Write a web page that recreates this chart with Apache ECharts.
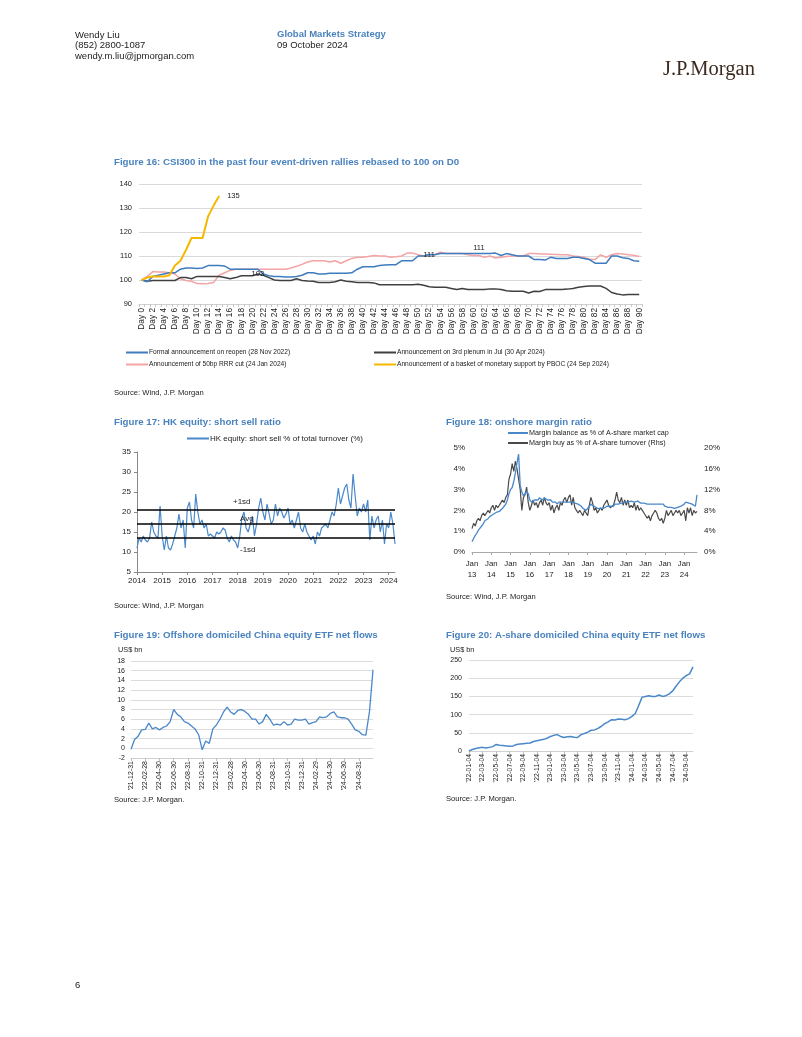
<!DOCTYPE html>
<html><head><meta charset="utf-8">
<script src="https://cdn.jsdelivr.net/npm/echarts@6/dist/echarts.min.js"></script>
<style>html,body{margin:0;padding:0;background:#fff}#c{width:802px;height:1037px}</style>
</head><body><div id="c"></div>
<script>
// ---------- Figure 16 data ----------
const days = []; for (let i = 0; i <= 90; i++) days.push('Day ' + i);
const reopen = [100,99.3,101.5,102,102.5,103,103,104.5,105,105,104.8,
  105,106,106,106,105.8,104.5,104.5,104.5,104.5,104.5,
  104.5,102.5,101.8,101.5,101.5,101.3,101.3,101.5,102,103,
  103,102.5,102.5,102.8,102.8,102.8,102.8,103,104.5,105.5,
  105.5,105.5,106,106.2,106.4,106.4,108,108,108,110,
  110,110.6,110.5,111,111,111,111,111,111,111,
  111,111,111,111.2,110.2,111,110.5,110,110,110,
  108.5,108.5,108.3,109.5,109,109,109,109.5,109.5,109,
  108.5,107,107,107,110,110,109.3,109,108,107.8];
const plenum = [100,99.5,99.8,99.8,99.8,99.8,99.8,101,101,100.5,101.5,
  101.5,101.5,101.5,101.5,101,100.5,101,101.8,101.8,101.8,
  102.5,102,101,100,99.8,99.8,99.8,100.5,99.8,99.6,
  99.5,99,99,99,99.3,100,99.5,99.3,99,99,
  99,98.8,98,98,98,98,98,98,98,98.2,
  97.8,97.2,97,97,97,96.5,96,96.5,96,96,
  96,96,96.3,96.3,96,95.5,95.3,95.3,95.3,94.6,
  95.3,95.2,96,96,96,96,96.2,96.5,97,97.3,
  97.5,97.5,97.5,96.5,94.8,94.2,93.8,94,94,94];
const rrrCut = [100,101.5,103.5,103.3,103.3,103,102.5,100.5,99.8,99.5,98.5,
  98.4,98.5,99,102,103,104,104.5,104.5,104.5,104.5,
  104.5,104.5,104.5,104.5,104.5,104.5,105,105.7,106.5,107.5,
  108,108,108,107.5,108,107,108,109,109.5,109.5,
  109.8,110.2,110,110,109.5,109.7,110,111.2,111.2,110.5,
  110,110.5,110.5,111.6,111,111,111,111,110.5,110.2,
  110.2,109.5,110,109.2,109.5,109.8,110,110,110,111,
  111,110.8,110.8,110.7,110.6,110.5,110.5,110,109.8,109.5,
  108.6,108.5,110.5,109.5,110.5,111,110.8,110.5,110.3,109.8];
const pboc = [100,101,101.5,101.5,101.5,102,106,108,112.5,117.5,117.5,117.5,126.5,131,135];
const f16Names = ['Formal announcement on reopen (28 Nov 2022)','Announcement on 3rd plenum in Jul (30 Apr 2024)',
  'Announcement of 50bp RRR cut (24 Jan 2024)','Announcement of a basket of monetary support by PBOC (24 Sep 2024)'];
const plenumLabelDay = 21, reopenLabelDays = [52, 61];

// ---------- Figure 17 data (monthly, visual reading) ----------
const ssMonths = []; for (let y = 2014; y <= 2024; y++) for (let m = 1; m <= 12; m++) { if (y === 2024 && m > 4) break; ssMonths.push(y + '-' + (m < 10 ? '0' + m : m)); }
const shortSell = [
  11,13.5,12.5,14,13,12.5,13.5,17.5,15,14,13.5,21.5,
  14,10.5,14,11,10.5,12,14,16,19.5,16,18,11,
  21,22.5,18,16,24.5,20,17,18,16,17,14,14.5,
  14,13.5,15,14.5,15,16,15.5,13.5,12.5,14,13,12.5,
  11,14,18.5,20,16,15,17,19,14,17,21,23.5,
  20,18,22,19.5,17,18,22,19,21,20,18.5,19.5,
  21,17,18,16,18,20,16,15,17,15,14,13,
  14,12,15,14,16,16.5,17,16,18,20,19,22,
  26,22,24,26,27,23,21,29.5,24,19,21,20,
  22,20,23,13,19,16,18,19,15,18,12,17,
  16,20,17,12];
const ssSdUp = 20.5, ssAvg = 17, ssSdDown = 13.5;

// ---------- Figure 18 data (monthly) ----------
const mgMonths = []; for (let y = 2013; y <= 2024; y++) for (let m = 1; m <= 12; m++) { if (y === 2024 && m > 9) break; mgMonths.push(y + '-' + (m < 10 ? '0' + m : m)); }
const marginBal = [
  0.5,0.65,0.8,0.9,1.05,1.15,1.25,1.35,1.5,1.55,1.6,1.7,
  1.75,1.8,1.85,1.9,1.95,1.95,2.0,2.1,2.2,2.3,2.5,2.8,
  3.0,3.1,3.4,3.8,4.3,4.7,3.2,2.9,2.7,2.8,2.9,2.8,
  2.5,2.4,2.4,2.5,2.5,2.5,2.6,2.6,2.5,2.6,2.6,2.5,
  2.5,2.5,2.4,2.4,2.4,2.3,2.4,2.4,2.4,2.4,2.4,2.4,
  2.4,2.4,2.4,2.4,2.35,2.3,2.3,2.3,2.2,2.1,2.1,2.0,
  2.0,2.2,2.3,2.25,2.2,2.15,2.1,2.1,2.1,2.1,2.1,2.1,
  2.2,2.2,2.2,2.2,2.2,2.3,2.3,2.3,2.35,2.35,2.35,2.4,
  2.4,2.4,2.45,2.45,2.4,2.4,2.4,2.45,2.4,2.35,2.35,2.35,
  2.35,2.3,2.3,2.3,2.3,2.3,2.3,2.3,2.3,2.3,2.25,2.3,
  2.2,2.2,2.15,2.15,2.15,2.1,2.1,2.15,2.15,2.15,2.2,2.2,
  2.3,2.4,2.4,2.35,2.3,2.3,2.25,2.2,2.75];
const marginBuy = [
  4.5,5.5,5.0,6.0,6.5,6.0,7.0,7.5,7.0,7.5,8.0,7.5,
  8.5,9.0,8.0,9.0,8.5,9.0,9.5,10.0,9.5,10.5,11.0,14.0,
  15.0,17.0,15.5,17.5,16.0,14.0,12.0,8.0,10.5,11.0,12.5,9.5,
  8.0,9.0,10.0,9.0,9.5,8.5,9.5,10.0,9.0,10.5,9.5,9.0,
  9.5,8.0,9.0,7.5,8.5,9.0,8.0,9.5,9.0,10.0,10.5,9.5,
  10.5,11.0,9.0,10.5,8.5,8.0,7.5,8.0,7.5,7.0,8.0,7.5,
  7.0,9.0,10.5,9.5,8.0,8.5,7.5,8.0,8.5,8.0,9.0,9.5,
  10.0,9.0,8.5,8.5,9.0,10.0,11.5,10.0,9.5,10.5,9.0,10.0,
  9.0,10.0,8.5,9.0,8.5,9.5,8.0,9.0,8.0,8.5,8.0,7.5,
  7.5,6.5,7.0,6.0,7.0,7.5,8.0,7.5,6.5,6.0,6.5,5.5,
  6.5,8.0,7.0,7.5,8.0,7.0,7.5,8.0,7.5,8.0,7.0,7.5,
  8.0,6.0,8.5,7.5,8.5,7.0,8.0,7.5,7.8];

// ---------- Figure 19 data ----------
const offDates = ["'21-12-31","'22-01-15","'22-01-31","'22-02-15","'22-02-28","'22-03-15","'22-03-31","'22-04-15","'22-04-30","'22-05-15","'22-05-31","'22-06-15","'22-06-30","'22-07-15","'22-07-31","'22-08-15","'22-08-31","'22-09-15","'22-09-30","'22-10-15","'22-10-31","'22-11-15","'22-11-30","'22-12-15","'22-12-31","'23-01-15","'23-01-31","'23-02-15","'23-02-28","'23-03-15","'23-03-31","'23-04-15","'23-04-30","'23-05-15","'23-05-31","'23-06-15","'23-06-30","'23-07-15","'23-07-31","'23-08-15","'23-08-31","'23-09-15","'23-09-30","'23-10-15","'23-10-31","'23-11-15","'23-11-30","'23-12-15","'23-12-31","'24-01-15","'24-01-31","'24-02-15","'24-02-29","'24-03-15","'24-03-31","'24-04-15","'24-04-30","'24-05-15","'24-05-31","'24-06-15","'24-06-30","'24-07-15","'24-07-31","'24-08-15","'24-08-31","'24-09-15","'24-09-23","'24-09-30","'24-10-08"];
const offFlows = [-0.2,1.8,2.5,3.8,3.9,5.2,4.0,4.3,3.8,4.3,4.6,5.5,8.0,7.0,6.5,5.5,5.2,4.6,4.0,2.8,-0.3,1.5,1.0,4.0,4.8,
  6.0,7.5,8.5,7.5,7.0,7.8,8.0,7.6,7.0,6.0,6.0,5.0,5.5,7.0,6.0,4.8,5.0,4.8,5.5,4.8,5.0,6.0,5.8,5.8,
  6.0,5.0,5.3,5.5,6.5,6.3,6.5,7.2,7.5,6.5,6.3,6.3,6.0,5.0,3.8,3.5,2.8,2.7,7.5,16.2];
const offLastLabel = "'24-08-31";

// ---------- Figure 20 data ----------
const aDates = ["'22-01-04","'22-01-19","'22-02-04","'22-02-19","'22-03-04","'22-03-19","'22-04-04","'22-04-19","'22-05-04","'22-05-19","'22-06-04","'22-06-19","'22-07-04","'22-07-19","'22-08-04","'22-08-19","'22-09-04","'22-09-19","'22-10-04","'22-10-19","'22-11-04","'22-11-19","'22-12-04","'22-12-19","'23-01-04","'23-01-19","'23-02-04","'23-02-19","'23-03-04","'23-03-19","'23-04-04","'23-04-19","'23-05-04","'23-05-19","'23-06-04","'23-06-19","'23-07-04","'23-07-19","'23-08-04","'23-08-19","'23-09-04","'23-09-19","'23-10-04","'23-10-19","'23-11-04","'23-11-19","'23-12-04","'23-12-19","'24-01-04","'24-01-19","'24-02-04","'24-02-19","'24-03-04","'24-03-19","'24-04-04","'24-04-19","'24-05-04","'24-05-19","'24-06-04","'24-06-19","'24-07-04","'24-07-19","'24-08-04","'24-08-19","'24-09-04","'24-09-19","'24-10-08"];
const aFlows = [0,4,7,9,10,8,10,12,18,16,15,14,13,14,18,19,20,21,22,26,28,30,32,35,
  40,43,45,40,37,39,40,38,37,45,48,52,57,58,62,68,75,80,86,85,88,87,86,89,
  95,103,125,148,150,152,150,150,154,150,152,157,165,178,190,200,207,212,231];
const aLastLabel = "'24-09-04";

// ---------- styling ----------
const FN = "'Liberation Sans',Arial,sans-serif";
const TXT = '#222';
const TBLUE = '#4a82be';
const C_BLUE = '#3f7cbf', C_GRAY = '#404040', C_PINK = '#f4a4a4', C_YEL = '#f5b800';
const LBLUE = '#4a88c9';

function T(x, y, text, font, fill) {
  return { type: 'text', x: x, y: y, silent: true,
    style: { text: text, font: font, fill: fill || TXT, align: 'left', verticalAlign: 'middle' } };
}
const graphics = [
  T(75, 35, 'Wendy Liu', '9.5px ' + FN),
  T(75, 45.5, '(852) 2800-1087', '9.5px ' + FN),
  T(75, 56, 'wendy.m.liu@jpmorgan.com', '9.5px ' + FN),
  T(277, 34, 'Global Markets Strategy', 'bold 9.5px ' + FN, TBLUE),
  T(277, 45, '09 October 2024', '9.5px ' + FN),
  T(663, 70, 'J.P.Morgan', '20.5px "Liberation Serif",serif', '#3c2a1f'),
  T(114, 162, 'Figure 16: CSI300 in the past four event-driven rallies rebased to 100 on D0', 'bold 9.7px ' + FN, TBLUE),
  T(114, 422, 'Figure 17: HK equity: short sell ratio', 'bold 9.7px ' + FN, TBLUE),
  T(446, 422, 'Figure 18: onshore margin ratio', 'bold 9.7px ' + FN, TBLUE),
  T(114, 635, 'Figure 19: Offshore domiciled China equity ETF net flows', 'bold 9.7px ' + FN, TBLUE),
  T(446, 635, 'Figure 20: A-share domiciled China equity ETF net flows', 'bold 9.7px ' + FN, TBLUE),
  T(114, 393, 'Source: Wind, J.P. Morgan', '7.6px ' + FN),
  T(114, 606, 'Source: Wind, J.P. Morgan', '7.6px ' + FN),
  T(446, 597, 'Source: Wind, J.P. Morgan', '7.6px ' + FN),
  T(114, 800, 'Source: J.P. Morgan.', '7.6px ' + FN),
  T(446, 799, 'Source: J.P. Morgan.', '7.6px ' + FN),
  T(118, 650, 'US$ bn', '7.3px ' + FN),
  T(450, 650, 'US$ bn', '7.3px ' + FN),
  T(75, 985, '6', '9.5px ' + FN)
];

const lab = (size, extra) => Object.assign({ fontFamily: FN, fontSize: size, color: TXT }, extra || {});
const noLine = { show: false };
const everyYear = (i) => i % 12 === 0;
const offEvery = (i) => i % 4 === 0 && i <= offDates.indexOf(offLastLabel);
const aEvery = (i) => i % 4 === 0 && i <= aDates.indexOf(aLastLabel);
const valueMark = (arr, i, pos, dist) => ({ coord: [days[i], arr[i]], value: arr[i],
  label: { show: true, position: pos, distance: dist, formatter: p => Math.round(p.value), ...lab(7.5) } });
const markBase = { symbol: 'rect', symbolSize: 1, silent: true, animation: false, itemStyle: { color: 'rgba(0,0,0,0)' } };

const option = {
  animation: false,
  backgroundColor: '#fff',
  graphic: graphics,
  grid: [
    { left: 139, top: 184, width: 503, height: 120 },
    { left: 137, top: 452, width: 258, height: 120 },
    { left: 472, top: 448, width: 225, height: 104 },
    { left: 131, top: 661, width: 242, height: 97 },
    { left: 469, top: 660, width: 224, height: 91 }
  ],
  legend: [
    { left: 126, top: 349, orient: 'vertical', itemGap: 5, itemWidth: 22, itemHeight: 2, icon: 'rect', selectedMode: false, padding: 0,
      textStyle: lab(6.6, { padding: [0, 0, 0, -4] }), data: [f16Names[0], f16Names[2]] },
    { left: 374, top: 349, orient: 'vertical', itemGap: 5, itemWidth: 22, itemHeight: 2, icon: 'rect', selectedMode: false, padding: 0,
      textStyle: lab(6.6, { padding: [0, 0, 0, -4] }), data: [f16Names[1], f16Names[3]] },
    { left: 187, top: 434.5, itemWidth: 22, itemHeight: 2, icon: 'rect', selectedMode: false, padding: 0,
      textStyle: lab(8, { padding: [0, 0, 0, -4] }), data: ['HK equity: short sell % of total turnover (%)'] },
    { left: 508, top: 429.5, orient: 'vertical', itemGap: 3, itemWidth: 20, itemHeight: 2, icon: 'rect', selectedMode: false, padding: 0,
      textStyle: lab(7.2, { padding: [0, 0, 0, -4] }), data: ['Margin balance as % of A-share market cap', 'Margin buy as % of A-share turnover (Rhs)'] }
  ],
  xAxis: [
    { gridIndex: 0, type: 'category', data: days, boundaryGap: true,
      axisLine: { lineStyle: { color: '#d0d0d0' } },
      axisTick: { show: true, interval: 0, length: 3, lineStyle: { color: '#c8c8c8' } },
      axisLabel: lab(8.3, { rotate: 90, interval: 1, margin: 4 }) },
    { gridIndex: 1, type: 'category', data: ssMonths, boundaryGap: false,
      axisLine: { lineStyle: { color: '#888' } },
      axisTick: { show: true, interval: everyYear, length: 3, lineStyle: { color: '#888' } },
      axisLabel: lab(8, { interval: everyYear, margin: 5, formatter: v => v.slice(0, 4) }) },
    { gridIndex: 2, type: 'category', data: mgMonths, boundaryGap: false,
      axisLine: { lineStyle: { color: '#aaa' } },
      axisTick: { show: true, interval: everyYear, length: 3, lineStyle: { color: '#aaa' } },
      axisLabel: lab(7.8, { interval: everyYear, margin: 6, lineHeight: 11, formatter: v => 'Jan\n' + v.slice(2, 4) }) },
    { gridIndex: 3, type: 'category', data: offDates, boundaryGap: false, position: 'bottom',
      axisLine: noLine, axisTick: noLine,
      axisLabel: lab(7, { rotate: 90, interval: offEvery, margin: 3 }) },
    { gridIndex: 3, type: 'category', data: offDates, boundaryGap: false, position: 'bottom',
      axisLine: { show: true, onZero: true, lineStyle: { color: '#d0d0d0' } },
      axisTick: { show: true, interval: offEvery, length: 3, lineStyle: { color: '#c0c0c0' } },
      axisLabel: { show: false } },
    { gridIndex: 4, type: 'category', data: aDates, boundaryGap: false,
      axisLine: { lineStyle: { color: '#d0d0d0' } },
      axisTick: { show: true, interval: aEvery, length: 3, lineStyle: { color: '#c0c0c0' } },
      axisLabel: lab(6.8, { rotate: 90, interval: aEvery, margin: 3 }) }
  ],
  yAxis: [
    { gridIndex: 0, type: 'value', min: 90, max: 140, interval: 10,
      splitLine: { lineStyle: { color: '#dadada' } }, axisLine: noLine, axisTick: noLine,
      axisLabel: lab(7.5, { margin: 7 }) },
    { gridIndex: 1, type: 'value', min: 5, max: 35, interval: 5,
      splitLine: noLine, axisLine: { show: true, lineStyle: { color: '#888' } },
      axisTick: { show: true, length: 3, lineStyle: { color: '#888' } },
      axisLabel: lab(8, { margin: 6 }) },
    { gridIndex: 2, type: 'value', min: 0, max: 5, interval: 1,
      splitLine: noLine, axisLine: noLine, axisTick: noLine,
      axisLabel: lab(8, { margin: 7, formatter: v => v + '%' }) },
    { gridIndex: 2, type: 'value', min: 0, max: 20, interval: 4, position: 'right',
      splitLine: noLine, axisLine: noLine, axisTick: noLine,
      axisLabel: lab(8, { margin: 7, formatter: v => v + '%' }) },
    { gridIndex: 3, type: 'value', min: -2, max: 18, interval: 2,
      splitLine: { lineStyle: { color: '#dcdcdc' } }, axisLine: noLine, axisTick: noLine,
      axisLabel: lab(7, { margin: 6 }) },
    { gridIndex: 4, type: 'value', min: 0, max: 250, interval: 50,
      splitLine: { lineStyle: { color: '#dcdcdc' } }, axisLine: noLine, axisTick: noLine,
      axisLabel: lab(7, { margin: 7 }) }
  ],
  series: [
    { name: f16Names[2], type: 'line', xAxisIndex: 0, yAxisIndex: 0, data: rrrCut, showSymbol: false,
      lineStyle: { color: C_PINK, width: 1.5 }, itemStyle: { color: C_PINK } },
    { name: f16Names[1], type: 'line', xAxisIndex: 0, yAxisIndex: 0, data: plenum, showSymbol: false,
      markPoint: Object.assign({}, markBase, { data: [valueMark(plenum, plenumLabelDay, 'inside', 0)] }),
      lineStyle: { color: C_GRAY, width: 1.5 }, itemStyle: { color: C_GRAY } },
    { name: f16Names[0], type: 'line', xAxisIndex: 0, yAxisIndex: 0, data: reopen, showSymbol: false,
      markPoint: Object.assign({}, markBase, { data: [valueMark(reopen, reopenLabelDays[0], 'inside', 0), valueMark(reopen, reopenLabelDays[1], 'top', 1)] }),
      lineStyle: { color: C_BLUE, width: 1.5 }, itemStyle: { color: C_BLUE } },
    { name: f16Names[3], type: 'line', xAxisIndex: 0, yAxisIndex: 0, data: pboc, showSymbol: false,
      endLabel: { show: true, distance: 8, formatter: '{c}', ...lab(7.5) },
      lineStyle: { color: C_YEL, width: 2 }, itemStyle: { color: C_YEL } },

    { name: 'HK equity: short sell % of total turnover (%)', type: 'line', xAxisIndex: 1, yAxisIndex: 1, data: shortSell, showSymbol: false,
      lineStyle: { color: LBLUE, width: 1.2 }, itemStyle: { color: LBLUE },
      markLine: { symbol: 'none', silent: true, lineStyle: { color: '#000', width: 1.5, type: 'solid' },
        label: lab(8),
        data: [
          { yAxis: ssSdUp, label: { formatter: '+1sd', position: 'insideStartTop', distance: [96, 4], ...lab(8) } },
          { yAxis: ssAvg, label: { formatter: 'Avg', position: 'insideStartTop', distance: [103, 1], ...lab(8) } },
          { yAxis: ssSdDown, label: { formatter: '-1sd', position: 'insideStartBottom', distance: [103, 8], ...lab(8) } }
        ] } },

    { name: 'Margin balance as % of A-share market cap', type: 'line', xAxisIndex: 2, yAxisIndex: 2, data: marginBal, showSymbol: false,
      lineStyle: { color: LBLUE, width: 1.3 }, itemStyle: { color: LBLUE }, z: 3 },
    { name: 'Margin buy as % of A-share turnover (Rhs)', type: 'line', xAxisIndex: 2, yAxisIndex: 3, data: marginBuy, showSymbol: false,
      lineStyle: { color: '#4a4a4a', width: 1.2 }, itemStyle: { color: '#4a4a4a' }, z: 2 },

    { name: 'Offshore ETF flows', type: 'line', xAxisIndex: 3, yAxisIndex: 4, data: offFlows, showSymbol: false,
      lineStyle: { color: LBLUE, width: 1.3 }, itemStyle: { color: LBLUE } },
    { name: 'A-share ETF flows', type: 'line', xAxisIndex: 5, yAxisIndex: 5, data: aFlows, showSymbol: false,
      lineStyle: { color: LBLUE, width: 1.5 }, itemStyle: { color: LBLUE } }
  ]
};

const chart = echarts.init(document.getElementById('c'), null, { renderer: 'canvas' });
chart.setOption(option);
</script>
</body></html>
